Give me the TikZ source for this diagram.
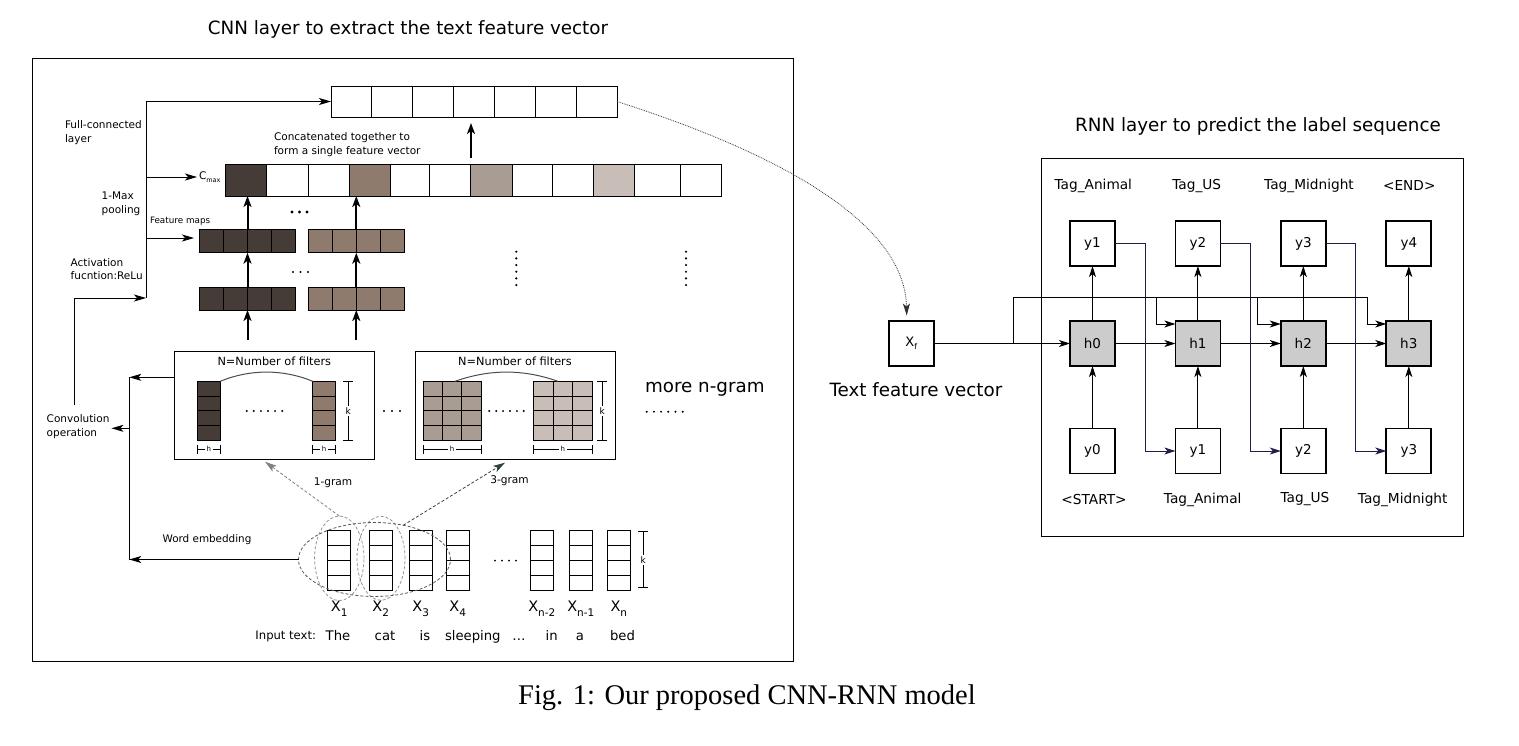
\documentclass[tikz,border=0pt]{standalone}
\usepackage{fontspec}
\setmainfont{DejaVu Sans}
\newfontfamily\capfont{Liberation Serif}
\usetikzlibrary{arrows.meta,calc,shapes.geometric}
\definecolor{cdark}{HTML}{463C37}
\definecolor{cbrown}{HTML}{8E7B6E}
\definecolor{cmid}{HTML}{A99D93}
\definecolor{clight}{HTML}{C8BDB7}
\definecolor{hgray}{HTML}{CCCCCC}
\definecolor{navyline}{HTML}{1E1E48}
\definecolor{gramgreen}{HTML}{34403A}
\newcommand{\fsz}[2]{\fontsize{#1}{#2}\selectfont}
\newcommand{\kbracket}[4]{%
  \draw[line width=0.9pt] ({#1-5},#2) -- ({#1+5},#2) ({#1-5},#3) -- ({#1+5},#3) (#1,#2) -- (#1,#3);
  \node[fill=white, inner sep=1.5pt, font=\fsz{9}{9}] (#4) at (#1,{(#2+#3)/2}) {k};}
\newcommand{\hbracket}[4]{%
  \draw[line width=0.9pt] (#1,{#3-4.5}) -- (#1,{#3+4.5}) (#2,{#3-4.5}) -- (#2,{#3+4.5}) (#1,#3) -- (#2,#3);
  \node[fill=white, inner sep=1.5pt, font=\fsz{7}{7}] (#4) at ({(#1+#2)/2},#3) {h};}
\newcommand{\dotrow}[4]{\foreach \ii in {0,1,2,3,4,5} \fill ({#1+#2*\ii},#3) circle (#4);}
\begin{document}
\begin{tikzpicture}[x=1pt,y=-1pt,
  every node/.style={inner sep=0pt, outer sep=0pt},
  tip/.style={line width=1pt,-{Stealth[length=12pt,width=7pt,inset=3pt]}},
  thicktip/.style={line width=2pt,-{Stealth[length=11pt,width=8pt,inset=3pt]}},
  rtip/.style={line width=1pt,-{Stealth[length=11pt,width=7pt,inset=3pt]}},
  frame/.style={draw, line width=0.9pt},
  cell/.style={draw, line width=0.9pt},
  small/.style={font=\fsz{10.5}{13.5}, align=left},
  big/.style={font=\fsz{18.3}{22}},
  rnode/.style={draw, line width=1.8pt, minimum width=45pt, minimum height=45pt, font=\fsz{13.5}{13.5}},
  hnode/.style={rnode, fill=hgray},
  rlabel/.style={font=\fsz{13.7}{13.7}},
  gellipse/.style={draw=gray!85, dash pattern=on 3pt off 2pt, line width=0.8pt, ellipse},
]
\useasboundingbox (0,0) rectangle (1519,745);

% ================= CNN part =================
\node[big] (cnntitle) at (408,29) {CNN layer to extract the text feature vector};
\draw[frame] (32,58) rectangle (793,661);

% fully connected vector
\foreach \i in {0,1,2,3,4,5,6} \draw[cell] ({331+40.857*\i},86) rectangle ++(40.857,31);
\node[minimum width=286pt, minimum height=31pt] (fc) at (474,101.5) {};

% concatenated vector
\foreach \a/\b/\col in {225/266.7/cdark, 266.7/308.3/white, 308.3/349.3/white, 349.3/390/cbrown, 390/429.3/white, 429.3/470.3/white, 470.3/512.3/cmid, 512.3/552.3/white, 552.3/593.3/white, 593.3/634.3/clight, 634.3/680/white, 680/721/white}
  \draw[cell, fill=\col] (\a,164) rectangle (\b,196);
\node[minimum width=496pt, minimum height=32pt] (cv) at (473,180) {};

% feature maps
\foreach \yy/\hh in {229.3/23.4, 287.7/22.3} {
  \foreach \i in {0,1,2,3} {
    \draw[cell, fill=cdark] ({199.3+24.1*\i},\yy) rectangle ++(24.1,\hh);
    \draw[cell, fill=cbrown] ({308.3+24*\i},\yy) rectangle ++(24,\hh);
  }
}
\node[minimum width=96.4pt, minimum height=23.4pt] (fmA1) at (247.5,241) {};
\node[minimum width=96pt, minimum height=23.4pt] (fmB1) at (356.3,241) {};
\node[minimum width=96.4pt, minimum height=22.3pt] (fmA2) at (247.5,298.85) {};
\node[minimum width=96pt, minimum height=22.3pt] (fmB2) at (356.3,298.85) {};

\draw[thicktip] (fmA1.north) -- (fmA1.north |- cv.south);
\draw[thicktip] (fmB1.north) -- (fmB1.north |- cv.south);
\draw[thicktip] (fmA2.north) -- (fmA2.north |- fmA1.south);
\draw[thicktip] (fmB2.north) -- (fmB2.north |- fmB1.south);
\coordinate (inA) at (247.5,340);
\coordinate (inB) at (356.3,340);
\draw[thicktip] (inA) -- (fmA2.south);
\draw[thicktip] (inB) -- (fmB2.south);
\coordinate (cvup) at (471,158);
\coordinate (fcdown) at (471,123);
\draw[thicktip] (cvup) -- (fcdown);

% dots
\foreach \i in {0,1,2} \fill ({292+7.5*\i},212) circle (1.6pt);
\foreach \i in {0,1,2} \fill ({293+7.5*\i},272) circle (1.1pt);
\foreach \i in {0,1,2,3,4,5} {
  \fill (516.3,{251.7+6.67*\i}) circle (1.2pt);
  \fill (686,{251.7+6.67*\i}) circle (1.2pt);
}

% left labels
\node[small, anchor=west] (lfc) at (65,132.5) {Full-connected\\layer};
\node[small, anchor=west] (lmax) at (101.7,204) {1-Max\\pooling};
\node[small, anchor=west] (lact) at (70.7,269.3) {Activation\\fucntion:ReLu};
\node[small, anchor=west] (lconv) at (46.7,426.5) {Convolution\\operation};
\node[small, anchor=west] (lconc) at (274,144.5) {Concatenated together to\\form a single feature vector};
\node[font=\fsz{8.8}{8.8}, anchor=west] (lfm) at (150,221) {Feature maps};
\node[font=\fsz{10.5}{10.5}, anchor=west] (cmax) at (199,177) {C\raisebox{-0.25em}{\fsz{6.5}{6.5}max}};

% left connectors
\coordinate (vtop) at (146,101.5);
\coordinate (vbot) at (146,298);
\coordinate (vmax) at (146,177);
\coordinate (vfm) at (146,238);
\coordinate (fmtip) at (194,238);
\draw[line width=1pt] (vbot) -- (vtop);
\draw[tip] (vtop) -- (fc.west);
\draw[tip] (vmax) -- ($(cmax.west)+(-2,0)$);
\draw[tip] (vfm) -- (fmtip);
\coordinate (conup) at (74,405);
\draw[tip] (conup) |- (vbot);

% filter box 1
\node[frame, minimum width=200pt, minimum height=107.3pt] (fb1) at (274.3,405.35) {};
\node[font=\fsz{11.3}{11.3}] (fb1t) at (274.3,361.5) {N=Number of filters};
\foreach \r in {0,1,2,3} {
  \draw[cell, fill=cdark] (197.3,{381.3+14.675*\r}) rectangle ++(23,14.675);
  \draw[cell, fill=cbrown] (312.7,{381.3+14.675*\r}) rectangle ++(22.6,14.675);
}
\draw[gray!60!black, line width=1pt] (220.3,381.3) .. controls (250,369) and (283,369) .. (312.7,381.3);
\dotrow{246.7}{7.1}{411}{1.1pt}
\kbracket{348.3}{381.3}{440}{kb1}
\hbracket{197.3}{220.3}{449.3}{hb1}
\hbracket{312.7}{335.3}{449.3}{hb2}
\foreach \i in {0,1,2} \fill ({384+8*\i},411) circle (1.2pt);

% filter box 2
\node[frame, minimum width=200pt, minimum height=107.3pt] (fb2) at (515,405.35) {};
\node[font=\fsz{11.3}{11.3}] (fb2t) at (515,361.5) {N=Number of filters};
\foreach \r in {0,1,2,3} \foreach \cc in {0,1,2} {
  \draw[cell, fill=cmid] ({423.3+19.23*\cc},{381.3+14.675*\r}) rectangle ++(19.23,14.675);
  \draw[cell, fill=clight] ({533.3+19.67*\cc},{381.3+14.675*\r}) rectangle ++(19.67,14.675);
}
\draw[gray!60!black, line width=1pt] (455,381.3) .. controls (490,369) and (523,369) .. (558,381.3);
\dotrow{489.3}{6.9}{411}{1.1pt}
\kbracket{602.3}{381.3}{440}{kb2}
\hbracket{423.3}{481}{449.3}{hb3}
\hbracket{533.3}{592.3}{449.3}{hb4}
\node[big, anchor=west] (more) at (645,389) {more n-gram};
\dotrow{646.7}{7.2}{411.7}{1.1pt}

% word vectors
\foreach \xx/\n in {327.7/1, 369.3/2, 409.3/3, 446.3/4, 530.3/5, 569.3/6, 607.3/7} {
  \foreach \r in {0,1,2,3} \draw[cell] (\xx,{530.3+14.925*\r}) rectangle ++(23,14.925);
  \node[minimum width=23pt, minimum height=59.7pt] (w\n) at ({\xx+11.5},560.15) {};
}
\foreach \i in {0,1,2,3} \fill ({495+7*\i},560.7) circle (1pt);
\kbracket{643.3}{531.7}{587.7}{kb3}

\foreach \n/\s in {1/1,2/2,3/3,4/4,5/n-2,6/n-1,7/n}
  \node[font=\fsz{14.5}{14.5}, anchor=base] (xl\n) at (w\n.south |- 0,611.7) {X\raisebox{-0.3em}{\fsz{10.5}{10.5}\s}};

\node[font=\fsz{11.6}{11.6}, anchor=base east] (intext) at (316,639.5) {Input text:};
\foreach \lab/\xx/\n in {The/338/1, cat/385/2, is/425/3, sleeping/472.8/4, \dots/519/5, in/551.7/6, a/580/7, bed/622.5/8}
  \node[font=\fsz{13.2}{13.2}, anchor=base] (word\n) at (\xx,640) {\lab};

% n-gram ellipses
\node[gellipse, minimum width=49.4pt, minimum height=84.6pt] (e1) at (339.3,558.3) {};
\node[gellipse, minimum width=48pt, minimum height=84pt] (e2) at (381,558.3) {};
\node[gellipse, draw=gray!70!black, minimum width=152pt, minimum height=74pt] (ebig) at (374.5,559.5) {};

\coordinate (g1t) at (265,461.7);
\coordinate (g3t) at (505,462.7);
\draw[gray, densely dashed, line width=0.8pt, -{Stealth[length=12pt,width=7pt,inset=3pt]}] (e1.north) -- (g1t);
\draw[gramgreen, densely dashed, line width=0.8pt, -{Stealth[length=12pt,width=7pt,inset=3pt]}] (ebig.50) -- (g3t);
\node[font=\fsz{10.6}{10.6}] (l1g) at (333,483) {1-gram};
\node[font=\fsz{10.6}{10.6}] (l3g) at (509.5,481) {3-gram};
\node[font=\fsz{10.4}{10.4}] (lwe) at (207,539.5) {Word embedding};

% bottom-left connectors
\coordinate (vl1) at (129.3,377.3);
\coordinate (fbin) at (174.3,377.3);
\draw[tip] (fbin) -- (vl1);
\draw[line width=1pt] (vl1) -- (vl1 |- ebig.west);
\draw[tip] (ebig.west) -- (vl1 |- ebig.west);
\coordinate (vconv) at (129.3,428.3);
\draw[tip] (vconv) -- ($(lconv.east |- vconv)+(2,0)$);

% ================= RNN part =================
\node[big] (rnntitle) at (1258,126) {RNN layer to predict the label sequence};
\draw[frame] (1041.5,158) rectangle (1463.3,536.7);
\node[rnode, line width=1.6pt] (xf) at (911.2,343.5) {\fsz{13}{13}X\raisebox{-0.25em}{\fsz{8}{8}f}};
\node[big] (tfv) at (916,390) {Text feature vector};

\foreach \i/\xx in {0/1092.5, 1/1197.9, 2/1303.3, 3/1408.8}
  \node[hnode] (h\i) at (\xx,343.5) {h\i};
\foreach \i/\xx in {1/1092.5, 2/1197.9, 3/1303.3, 4/1408.8}
  \node[rnode] (yt\i) at (\xx,243.5) {y\i};
\foreach \i/\xx in {0/1092.5, 1/1197.9, 2/1303.3, 3/1408.8}
  \node[rnode] (yb\i) at (\xx,451) {y\i};

\foreach \lab/\xx/\n in {Tag\_Animal/1093.3/1, Tag\_US/1196.7/2, Tag\_Midnight/1309/3, <END>/1409.3/4}
  \node[rlabel] (tt\n) at (\xx,186) {\lab};
\foreach \lab/\xx/\n in {<START>/1094/0, Tag\_Animal/1202.7/1, Tag\_US/1305/2, Tag\_Midnight/1402.7/3}
  \node[rlabel] (bl\n) at (\xx,499.5) {\lab};

\foreach \i/\j in {0/1,1/2,2/3} \draw[rtip] (h\i) -- (h\j);
\foreach \i/\j in {0/1,1/2,2/3,3/4} \draw[rtip] (h\i) -- (yt\j);
\foreach \i in {0,1,2,3} \draw[rtip] (yb\i) -- (h\i);
\foreach \i in {1,2,3} \draw[rtip, navyline, line width=0.9pt] (yt\i.east) -- ++(30,0) |- (yb\i.west);
\draw[rtip] (xf) -- (h0);
\coordinate (br0) at (1013.3,343.5);
\coordinate (topR) at (1367.3,297.5);
\coordinate (b1) at (1156.7,297.5);
\coordinate (b2) at (1257.7,297.5);
\draw[rtip] (br0) |- (topR) |- ($(h3.north west)+(0,3)$);
\draw[rtip] (b1) |- ($(h1.north west)+(0,3)$);
\draw[rtip] (b2) |- ($(h2.north west)+(0,3)$);

% dotted curve from CNN output to X_f
\draw[gray!40!black, densely dotted, line width=0.8pt, -{Stealth[length=12pt,width=7pt,inset=3pt]}] (fc.east) .. controls (800,160) and (905,230) .. ($(xf.north)+(-4.5,-5.5)$);

% caption
\node[font=\capfont\fsz{28.5}{28.5}, anchor=base] (cap) at (747,704) {Fig. 1: Our proposed CNN-RNN model};
\end{tikzpicture}
\end{document}
